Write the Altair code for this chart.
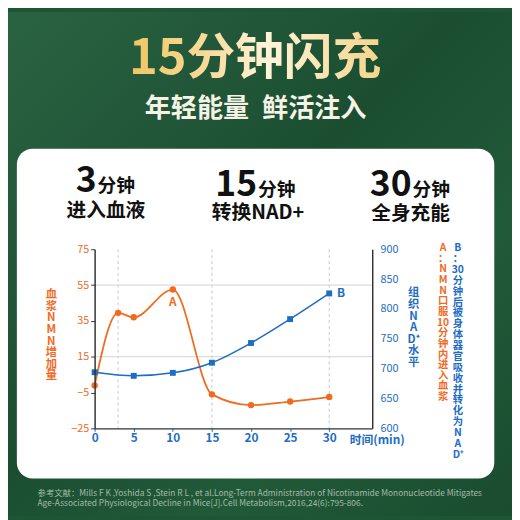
import altair as alt
import pandas as pd

# ---------------- data ----------------
time_a = [0, 3, 5, 10, 15, 20, 25, 30]
nmn_a = [-1, 39.5, 37, 52.5, -6, -12, -10, -7.5]
time_b = [0, 5, 10, 15, 20, 25, 30]
nad_b = [694, 688, 693, 710, 743, 783, 826]
left_ticks = [-25, -5, 15, 35, 55, 75]
right_ticks = [600, 650, 700, 750, 800, 850, 900]
x_ticks = [0, 5, 10, 15, 20, 25, 30]
vgrid = [3, 15, 30]
hgrid = [55, 15]

title_text = "15分钟闪充"
subtitle_text = "年轻能量\u2002鲜活注入"
head_nums = ["3", "15", "30"]
head_units = ["分钟", "分钟", "分钟"]
head_lines = ["进入血液", "转换NAD+", "全身充能"]
left_title = ["血", "浆", "N", "M", "N", "增", "加", "量"]
right_title = ["组", "织", "N", "A", "D⁺", "水", "平"]
note_a = ["A", "：", "N", "M", "N", "口", "服", "10", "分", "钟", "内", "进", "入", "血", "浆"]
note_b = ["B", "：", "30", "分", "钟", "后", "被", "身", "体", "器", "官", "吸", "收", "并",
          "转", "化", "为", "N", "A", "D⁺"]
x_title = "时间(min)"
ref_lines = [
    "参考文献：Mills F K ,Yoshida S ,Stein R L , et al.Long-Term Administration of Nicotinamide Mononucleotide Mitigates",
    "Age-Associated Physiological Decline in Mice[J].Cell Metabolism,2016,24(6):795-806.",
]

FONT = "Noto Sans CJK SC"
ORANGE = "#F26A1E"
BLUE = "#1E6CC4"
DARK = "#333333"

df_a = pd.DataFrame({"t": time_a, "v": nmn_a})
df_b = pd.DataFrame({"t": time_b, "nad": nad_b})
df_vg = pd.DataFrame({"t": vgrid})
df_hg = pd.DataFrame({"v": hgrid})
one = pd.DataFrame({"k": [0]})

xscale = alt.Scale(domain=[0, 35.5], nice=False, zero=False)
ylscale = alt.Scale(domain=[-25, 75], nice=False, zero=False)
yrscale = alt.Scale(domain=[600, 900], nice=False, zero=False)

xaxis = alt.Axis(values=x_ticks, orient="bottom", labelColor=BLUE, labelFontWeight="bold",
                 labelFontSize=12, labelFont=FONT, tickColor=BLUE, tickSize=3,
                 domainColor=DARK, domainWidth=1.5, grid=False, title=None, zindex=1,
                 labelPadding=1, labelFlush=False)
ylaxis = alt.Axis(values=left_ticks, orient="left", labelColor=ORANGE, labelFontSize=11,
                  labelFont=FONT, tickColor=DARK, tickSize=4, domainColor=DARK,
                  domainWidth=1.5, grid=False, title=None, zindex=1, labelPadding=2)
yraxis = alt.Axis(values=right_ticks, orient="right", labelColor=BLUE, labelFontSize=11,
                  labelFont=FONT, ticks=False, domainColor=DARK, domainWidth=1.5,
                  grid=False, title=None, zindex=1, labelPadding=8)


def txt(text, x, y, size, color, weight="normal", align="center", baseline="alphabetic",
        line_height=None, fill=None):
    kw = dict(font=FONT, fontSize=size, fontWeight=weight, align=align, baseline=baseline)
    if line_height is not None:
        kw["lineHeight"] = line_height
    if fill is not None:
        kw["fill"] = fill
        enc = dict(x=alt.value(x), y=alt.value(y), text=alt.value(text))
    else:
        enc = dict(x=alt.value(x), y=alt.value(y), text=alt.value(text), color=alt.value(color))
    return alt.Chart(one).mark_text(**kw).encode(**enc)


bg = alt.Chart(one).mark_rect(
    fill=alt.LinearGradient(
        gradient="linear",
        stops=[alt.GradientStop(color="#2A6342", offset=0),
               alt.GradientStop(color="#1B4E31", offset=0.45),
               alt.GradientStop(color="#215A39", offset=0.7),
               alt.GradientStop(color="#1A4C2F", offset=1)],
        x1=0, y1=0, x2=1, y2=1),
    strokeWidth=0,
).encode(x=alt.value(-88), x2=alt.value(424), y=alt.value(-241), y2=alt.value(271))

card = alt.Chart(one).mark_rect(fill="white", cornerRadius=16, strokeWidth=0).encode(
    x=alt.value(-79), x2=alt.value(406), y=alt.value(-102), y2=alt.value(233))

title_grad = alt.LinearGradient(
    gradient="linear",
    stops=[alt.GradientStop(color="#F0C562", offset=0),
           alt.GradientStop(color="#F8DA98", offset=0.3),
           alt.GradientStop(color="#FFF3D8", offset=0.55),
           alt.GradientStop(color="#F5D48C", offset=1)],
    x1=0, y1=0, x2=1, y2=0)

decor = [
    txt(title_text, 163, -178, 49.5, None, weight="bold", fill=title_grad),
    txt(subtitle_text, 163.5, -134, 26.5, "#F7F2E6", weight="bold"),
]
num_x = [2, 165, 322]
num_y = [-58, -54, -54]
line_x = [11.5, 166, 321]
line_y = [-33, -31, -30]
for i in range(3):
    decor.append(txt(head_nums[i], num_x[i], num_y[i], 36, "#111111", weight="bold", align="right"))
    decor.append(txt(head_units[i], num_x[i] + 1, num_y[i], 19, "#111111", weight="bold", align="left"))
    decor.append(txt(head_lines[i], line_x[i], line_y[i], 20, "#111111", weight="bold"))

decor += [
    txt(left_title, -44, 41, 11.5, ORANGE, weight="bold", baseline="top", line_height=11.7),
    txt(right_title, 324, 39, 11.5, BLUE, weight="bold", baseline="top", line_height=11.7),
    txt(note_a, 354, -6, 10.5, ORANGE, weight="bold", baseline="top", line_height=10.8),
    txt(note_b, 369, -6, 10.5, BLUE, weight="bold", baseline="top", line_height=11.05),
    txt(x_title, 287, 194, 12, BLUE, weight="bold", baseline="middle"),
    txt(ref_lines[0], -58, 251, 8.5, "#A3BBA9", align="left"),
    txt(ref_lines[1], -58, 260.5, 8.5, "#A3BBA9", align="left"),
]

vrules = alt.Chart(df_vg).mark_rule(color="#C8C8C8", strokeDash=[3, 3], strokeWidth=1).encode(
    x=alt.X("t:Q", scale=xscale, axis=xaxis))
hrules = alt.Chart(df_hg).mark_rule(color="#D2D2D2", strokeWidth=1).encode(
    y=alt.Y("v:Q", scale=ylscale, axis=ylaxis))

base_a = alt.Chart(df_a).encode(
    x=alt.X("t:Q", scale=xscale, axis=xaxis),
    y=alt.Y("v:Q", scale=ylscale, axis=ylaxis))
line_a = base_a.mark_line(color=ORANGE, strokeWidth=1.8, interpolate="monotone")
pts_a = base_a.mark_circle(color=ORANGE, size=42, opacity=1)
lab_a = base_a.transform_filter(alt.datum.t == 10).mark_text(
    font=FONT, fontSize=12, fontWeight="bold", color=ORANGE, dy=13).encode(text=alt.value("A"))

base_b = alt.Chart(df_b).encode(
    x=alt.X("t:Q", scale=xscale, axis=xaxis),
    y=alt.Y("nad:Q", scale=yrscale, axis=yraxis))
line_b = base_b.mark_line(color=BLUE, strokeWidth=1.5, interpolate="monotone")
pts_b = base_b.mark_square(color=BLUE, size=36, opacity=1)
lab_b = base_b.transform_filter(alt.datum.t == 30).mark_text(
    font=FONT, fontSize=12, fontWeight="bold", color=BLUE, dx=12).encode(text=alt.value("B"))

left_group = alt.layer(bg, card, *decor, vrules, hrules, line_a, pts_a, lab_a)
right_group = alt.layer(line_b, pts_b, lab_b)

chart = alt.layer(left_group, right_group).resolve_scale(y="independent").properties(
    width=282, height=182,
    padding={"left": 88, "top": 241, "right": 142, "bottom": 89},
    autosize=alt.AutoSizeParams(type="none"),
).configure_view(stroke=None).configure(background="#1E5535")

chart.save("out.html", embed_options={"renderer": "svg", "actions": False})
